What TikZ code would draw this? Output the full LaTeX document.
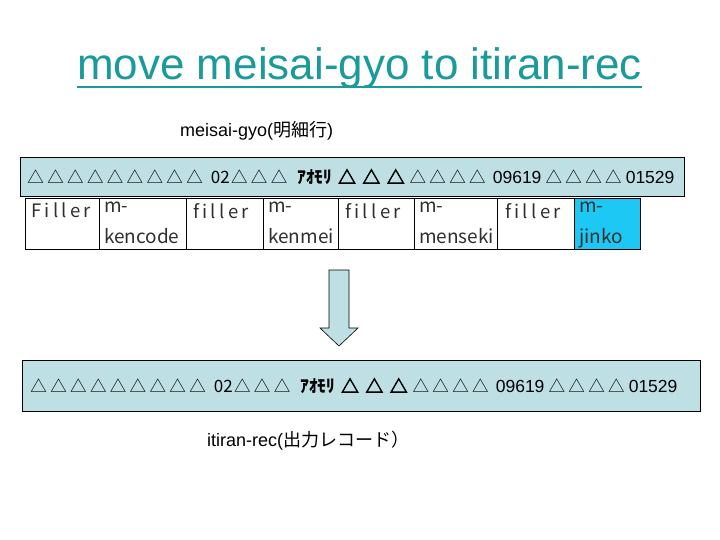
\documentclass[tikz,border=0pt]{standalone}
\usepackage{fontspec}
\setmainfont{Liberation Sans}
\newfontfamily\jp{Noto Sans CJK JP}
\newfontfamily\jpfb[FakeBold=4]{Noto Sans CJK JP}
\newfontfamily\cellwide[LetterSpace=18,Ligatures={NoCommon}]{Noto Sans CJK JP}
\definecolor{titlecol}{HTML}{1A9A9A}
\definecolor{bandfill}{HTML}{BEE0E4}
\definecolor{cyancell}{HTML}{1EC8F5}
\definecolor{celltext}{HTML}{303030}
\newcommand\Tri{\makebox[15pt][c]{\jp\fontsize{16.5}{18}\selectfont △}}
\newcommand\BTri{\makebox[19.5pt][c]{\jpfb\fontsize{17.5}{20}\selectfont △}}
\newcommand\rowtext{\Tri{} \Tri{} \Tri{} \Tri{} \Tri{} \Tri{} \Tri{} \Tri{} \Tri{} \hspace{4pt}{\jp\fontsize{17}{20}\selectfont 02}\hspace{2pt}\Tri{} \Tri{} \Tri{} \hspace{6pt}{\jp\bfseries ｱｵﾓﾘ} \BTri{} \BTri{} \BTri{} \Tri{} \Tri{} \Tri{} \Tri{} \hspace{3pt}09619 \Tri{} \Tri{} \Tri{} \Tri{} 01529}
\begin{document}
\begin{tikzpicture}[x=1pt,y=-1pt,
  band/.style={draw=black, fill=bandfill, line width=0.8pt},
  cellbox/.style={draw=black, line width=0.6pt, fill=white},
  celllab/.style={font=\jp\fontsize{19}{31}\selectfont, text=celltext, align=left, inner sep=0pt, anchor=north west},
  widelab/.style={celllab, font=\cellwide\fontsize{18.5}{28}\selectfont},
  rowtxt/.style={font=\fontsize{17.5}{20}\selectfont, inner sep=0pt, anchor=west},
  caption/.style={font=\fontsize{18}{20}\selectfont, inner sep=0pt, anchor=west}]
\useasboundingbox (0,0) rectangle (720,540);
% title
\node[anchor=base west, inner sep=0pt, text=titlecol, font=\fontsize{44}{50}\selectfont] (title) at (77,80) {move meisai-gyo to itiran-rec};
\draw[titlecol, line width=2.5pt] ([yshift=-7pt]title.base west) -- ([yshift=-7pt]title.base east);
% caption top
\node[caption] (cap1) at (180,131) {meisai-gyo({\jp 明細行})};
% top band
\draw[band] (20,157) rectangle (684,196);
\node[rowtxt] (row1) at (28,177) {\rowtext};
% table
\foreach \xa/\xb/\fl in {
  25/99/white, 99/186/white, 186/263/white, 263/338/white,
  338/414/white, 414/497/white, 497/574/white, 574/640/cyancell}{
  \draw[cellbox, fill=\fl] (\xa,198) rectangle (\xb,249);
}
\node[widelab] (c1) at (31,203) {Filler};
\node[celllab] (c2) at (104,202) {m-\\kencode};
\node[widelab] (c3) at (193,203) {filler};
\node[celllab] (c4) at (268,202) {m-\\kenmei};
\node[widelab] (c5) at (345,203) {filler};
\node[celllab] (c6) at (419,202) {m-\\menseki};
\node[widelab] (c7) at (505,203) {filler};
\node[celllab] (c8) at (579,202) {m-\\jinko};
% block arrow
\draw[fill=bandfill, draw=black, line width=0.6pt]
  (329,270) -- (349,270) -- (349,328) -- (358,328) -- (339,346) -- (320,328) -- (329,328) -- cycle;
% bottom band
\draw[band] (22,360) rectangle (700,411);
\node[rowtxt] (row2) at (31,386) {\rowtext};
% caption bottom
\node[caption] (cap2) at (207,441) {itiran-rec({\jp 出力レコード）}};
\end{tikzpicture}
\end{document}
